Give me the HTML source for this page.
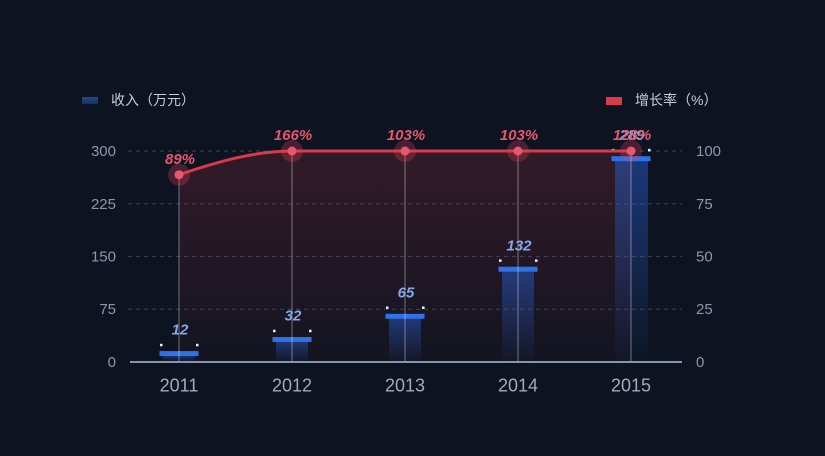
<!DOCTYPE html>
<html><head><meta charset="utf-8"><style>
html,body{margin:0;padding:0;background:#0d1320;}
svg{display:block;}
</style></head><body>
<svg width="825" height="456" viewBox="0 0 825 456" xmlns="http://www.w3.org/2000/svg">
<defs>
<linearGradient id="area" x1="0" y1="151" x2="0" y2="362" gradientUnits="userSpaceOnUse">
<stop offset="0" stop-color="rgb(200,56,75)" stop-opacity="0.2"/>
<stop offset="1" stop-color="rgb(200,56,75)" stop-opacity="0.03"/>
</linearGradient>
<linearGradient id="bar" x1="0" y1="0" x2="0" y2="1">
<stop offset="0" stop-color="rgb(40,95,210)" stop-opacity="0.5"/>
<stop offset="1" stop-color="rgb(40,95,210)" stop-opacity="0.03"/>
</linearGradient>
<linearGradient id="leg" x1="0" y1="0" x2="0" y2="1">
<stop offset="0" stop-color="#23498f"/>
<stop offset="1" stop-color="#16305e"/>
</linearGradient>
</defs>
<rect width="825" height="456" fill="#0d1320"/>

<!-- legend -->
<rect x="82" y="97" width="16" height="7" fill="url(#leg)"/>
<text x="111" y="105" font-family="Liberation Sans, Noto Sans CJK SC, sans-serif" font-size="14" fill="#c6cdd9">收入（万元）</text>
<rect x="606" y="97" width="16" height="8" fill="#d63a4b"/>
<text x="635" y="105" font-family="Liberation Sans, Noto Sans CJK SC, sans-serif" font-size="14" fill="#c6cdd9">增长率（%）</text>

<!-- grid -->
<g stroke="#333b4a" stroke-width="1.3" stroke-dasharray="4,4">
<line x1="128" y1="151" x2="682" y2="151"/>
<line x1="128" y1="203.75" x2="682" y2="203.75"/>
<line x1="128" y1="256.5" x2="682" y2="256.5"/>
<line x1="128" y1="309.25" x2="682" y2="309.25"/>
</g>

<!-- y labels -->
<g font-family="Liberation Sans, sans-serif" font-size="15" fill="#8d97ab" text-anchor="end">
<text x="116" y="156">300</text>
<text x="116" y="209">225</text>
<text x="116" y="261.5">150</text>
<text x="116" y="314">75</text>
<text x="116" y="367">0</text>
</g>
<g font-family="Liberation Sans, sans-serif" font-size="15" fill="#8d97ab">
<text x="696" y="156">100</text>
<text x="696" y="209">75</text>
<text x="696" y="261.5">50</text>
<text x="696" y="314">25</text>
<text x="696" y="367">0</text>
</g>

<!-- area -->
<path d="M179,174.7 C217,162 254,151 292,151 L631,151 L631,362 L179,362 Z" fill="url(#area)"/>

<!-- bars -->
<g>
<rect x="163" y="353.6" width="32" height="8.4" fill="url(#bar)"/>
<rect x="276" y="339.5" width="32" height="22.5" fill="url(#bar)"/>
<rect x="389" y="316.3" width="32" height="45.7" fill="url(#bar)"/>
<rect x="502" y="269.2" width="32" height="92.8" fill="url(#bar)"/>
<rect x="615" y="158.7" width="33" height="203.3" fill="url(#bar)"/>
</g>
<g fill="#2f72e6">
<rect x="159.5" y="351.1" width="39" height="5"/>
<rect x="272.5" y="337" width="39" height="5"/>
<rect x="385.5" y="313.8" width="39" height="5"/>
<rect x="498.5" y="266.7" width="39" height="5"/>
<rect x="611.5" y="156.2" width="39" height="5"/>
</g>
<g fill="#e8eef8">
<rect x="160" y="343.8" width="2.5" height="2.5"/><rect x="196" y="343.8" width="2.5" height="2.5"/>
<rect x="273" y="329.7" width="2.5" height="2.5"/><rect x="309" y="329.7" width="2.5" height="2.5"/>
<rect x="386" y="306.5" width="2.5" height="2.5"/><rect x="422" y="306.5" width="2.5" height="2.5"/>
<rect x="499" y="259.4" width="2.5" height="2.5"/><rect x="535" y="259.4" width="2.5" height="2.5"/>
<rect x="612" y="148.9" width="2.5" height="2.5"/><rect x="648" y="148.9" width="2.5" height="2.5"/>
</g>

<!-- vertical lines -->
<g stroke="rgba(255,255,255,0.2)" stroke-width="2">
<line x1="179" y1="174.7" x2="179" y2="362"/>
<line x1="292" y1="151" x2="292" y2="362"/>
<line x1="405" y1="151" x2="405" y2="362"/>
<line x1="518" y1="151" x2="518" y2="362"/>
<line x1="631" y1="151" x2="631" y2="362"/>
</g>

<!-- axis line -->
<line x1="130" y1="362" x2="682" y2="362" stroke="#8595ab" stroke-width="2"/>

<!-- x labels -->
<g font-family="Liberation Sans, sans-serif" font-size="18" fill="#a0abbd" text-anchor="middle">
<text x="179" y="391.5">2011</text>
<text x="292" y="391.5">2012</text>
<text x="405" y="391.5">2013</text>
<text x="518" y="391.5">2014</text>
<text x="631" y="391.5">2015</text>
</g>

<!-- bar labels -->
<g font-family="Liberation Sans, sans-serif" font-size="15" font-weight="bold" font-style="italic" fill="#86a8ea" text-anchor="middle">
<text x="180" y="334.5">12</text>
<text x="293" y="320.5">32</text>
<text x="406" y="297.5">65</text>
<text x="519" y="250.5">132</text>
<text x="632" y="140">289</text>
</g>

<!-- line -->
<path d="M179,174.7 C217,162 254,151 292,151 L631,151" fill="none" stroke="#d83a4c" stroke-width="3"/>
<g fill="rgba(225,70,95,0.28)">
<circle cx="179" cy="174.7" r="11"/>
<circle cx="292" cy="151" r="11"/>
<circle cx="405" cy="151" r="11"/>
<circle cx="518" cy="151" r="11"/>
<circle cx="631" cy="151" r="11"/>
</g>
<g fill="#ea5670">
<circle cx="179" cy="174.7" r="4.5"/>
<circle cx="292" cy="151" r="4.5"/>
<circle cx="405" cy="151" r="4.5"/>
<circle cx="518" cy="151" r="4.5"/>
<circle cx="631" cy="151" r="4.5"/>
</g>

<!-- line labels -->
<g font-family="Liberation Sans, sans-serif" font-size="15" font-weight="bold" font-style="italic" fill="#e5566c" text-anchor="middle">
<text x="180" y="164">89%</text>
<text x="293" y="140">166%</text>
<text x="406" y="140">103%</text>
<text x="519" y="140">103%</text>
<text x="632" y="140">128%</text>
</g>
</svg>
</body></html>
